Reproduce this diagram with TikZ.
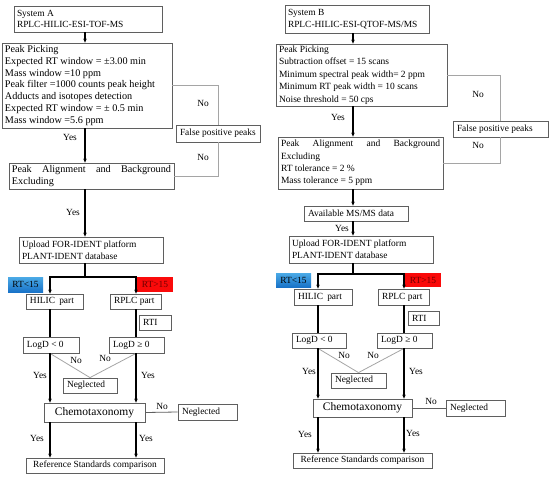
\documentclass[tikz,border=0pt]{standalone}
\usepackage{fontspec}
\setmainfont{Liberation Serif}
\usetikzlibrary{arrows.meta}
\definecolor{boxline}{RGB}{95,95,95}
\definecolor{noline}{RGB}{165,165,165}
\definecolor{bluetop}{RGB}{75,170,230}
\definecolor{bluebot}{RGB}{25,115,200}
\definecolor{redfill}{RGB}{250,10,10}
\definecolor{redtext}{RGB}{110,0,0}
\tikzset{
  box/.style={draw=boxline, line width=0.8pt, inner xsep=3pt, inner ysep=0pt, align=flush left, font=\fontsize{9.4}{11.8}\selectfont, fill=white},
  fa/.style={font=\fontsize{10.2}{11.7}\selectfont},
  fb/.style={font=\fontsize{9.5}{12.4}\selectfont},
  flow/.style={line width=1.2pt, -{Stealth[length=4pt,width=3.5pt]}},
  plain/.style={line width=1.2pt},
  nol/.style={draw=noline, line width=0.8pt},
  lab/.style={font=\fontsize{9.4}{11}\selectfont, inner sep=0pt},
  bluebox/.style={draw=none, top color=bluetop, bottom color=bluebot, inner sep=0pt, font=\fontsize{9.4}{11}\selectfont},
  redbox/.style={draw=none, fill=redfill, inner sep=0pt, text=redtext, font=\fontsize{9.4}{11}\selectfont}
}
% multi-line box, left aligned
\newcommand\bx[7][]{\node[box,minimum width={(#4-#2)*1pt},minimum height={(#5-#3)*1pt},text width={(#4-#2-6)*1pt},#1] (#6) at ({(#2+#4)/2},{(#3+#5)/2}) {#7};}
% single-line box, left aligned, never wraps
\newcommand\sx[7][]{\node[box,minimum width={(#4-#2)*1pt},minimum height={(#5-#3)*1pt},text width={(#4-#2-8)*1pt},#1] (#6) at ({(#2+#4)/2},{(#3+#5)/2}) {\makebox[\linewidth][l]{#7}};}
% single-line box, centred
\newcommand\cx[7][]{\node[box,align=center,inner xsep=0pt,minimum width={(#4-#2)*1pt},minimum height={(#5-#3)*1pt},#1] (#6) at ({(#2+#4)/2},{(#3+#5)/2}) {#7};}
\newcommand\tg[7][]{\node[#1,minimum width={(#4-#2)*1pt},minimum height={(#5-#3)*1pt}] (#6) at ({(#2+#4)/2},{(#3+#5)/2}) {#7};}
\newcommand\jl[4]{\makebox[\linewidth]{#1\hfill#2\hfill#3\hfill#4}}
\begin{document}
\begin{tikzpicture}[x=1pt,y=-1pt]
\useasboundingbox[fill=white] (0,0) rectangle (550,480);
% ---------------- System A ----------------
\coordinate (tA) at (85,0);
\coordinate (hA) at (50,0);
\coordinate (rA) at (136,0);
\coordinate (brA) at (0,277);
\bx{14}{6}{162}{32}{sysA}{System A\\RPLC-HILIC-ESI-TOF-MS}
\bx[fa]{2}{43}{172}{128}{ppA}{Peak Picking\\Expected RT window = ±3.00 min\\Mass window =10 ppm\\Peak filter =1000 counts peak height\\Adducts and isotopes detection\\Expected RT window = ± 0.5 min\\Mass window =5.6 ppm}
\sx{176}{125}{260}{142}{fpA}{False positive peaks}
\bx[fa]{9}{163}{174}{189}{paA}{\jl{Peak}{Alignment}{and}{Background}\\Excluding}
\bx{19}{237}{163}{263}{upA}{Upload FOR-IDENT platform\\PLANT-IDENT database}
\tg[bluebox]{8}{277}{43}{292}{rtlA}{RT<15}
\tg[redbox]{137}{277}{173}{292}{rtgA}{RT>15}
\sx{26}{294}{83}{309}{hilA}{HILIC\hspace{0.45em}part}
\sx{110}{294}{161}{309}{rplA}{RPLC part}
\sx{139}{315}{171}{330}{rtiA}{RTI}
\sx{23}{337}{79}{353}{ldlA}{LogD < 0}
\sx{109}{337}{164}{353}{ldgA}{LogD ≥ 0}
\sx{63}{378}{117}{393}{negA}{Neglected}
\cx[font=\fontsize{11.5}{13}\selectfont]{44}{403}{145}{422}{chA}{Chemotaxonomy}
\sx{178}{404}{237}{420}{neg2A}{Neglected}
\cx[font=\fontsize{9.4}{11}\selectfont]{26}{458}{164}{473}{refA}{Reference Standards comparison}
\draw[flow] (tA |- sysA.south) -- (tA |- ppA.north);
\draw[flow] (tA |- ppA.south) -- (tA |- paA.north);
\node[lab] (yA1) at (70,137) {Yes};
\draw[flow] (tA |- paA.south) -- (tA |- upA.north);
\node[lab] (yA2) at (73,212) {Yes};
\draw[plain] (tA |- upA.south) -- (tA |- brA);
\draw[flow] (tA |- brA) -| (hA |- hilA.north);
\draw[flow] (tA |- brA) -| (rA |- rplA.north);
\draw[nol] (ppA.east) -| (fpA.north);
\draw[nol] (fpA.south) |- (paA.east);
\node[lab] (nA1) at (203,103) {No};
\node[lab] (nA2) at (203,157) {No};
\draw[plain] (hA |- hilA.south) -- (hA |- ldlA.north);
\draw[plain] (rA |- rplA.south) -- (rA |- ldgA.north);
\draw[nol] (hA |- ldlA.south) -- (negA.north);
\draw[nol] (rA |- ldgA.south) -- (negA.north);
\node[lab] (nA3) at (76,360) {No};
\node[lab] (nA4) at (105,358) {No};
\draw[flow] (hA |- ldlA.south) -- (hA |- chA.north);
\draw[flow] (rA |- ldgA.south) -- (rA |- chA.north);
\node[lab] (yA3) at (40,375) {Yes};
\node[lab] (yA4) at (148,375) {Yes};
\draw[draw=boxline,line width=0.8pt] (chA.east) -- (neg2A.west);
\node[lab] (nA5) at (162,406) {No};
\draw[flow] (hA |- chA.south) -- (hA |- refA.north);
\draw[flow] (rA |- chA.south) -- (rA |- refA.north);
\node[lab] (yA5) at (37,438) {Yes};
\node[lab] (yA6) at (146,438) {Yes};
% ---------------- System B ----------------
\coordinate (tB) at (353,0);
\coordinate (hB) at (318,0);
\coordinate (rB) at (404,0);
\coordinate (brB) at (0,274);
\bx{285}{5}{429}{33}{sysB}{System B\\RPLC-HILIC-ESI-QTOF-MS/MS}
\bx[fb]{276}{44}{447}{106}{ppB}{Peak Picking\\Subtraction offset = 15 scans\\Minimum spectral peak width= 2 ppm\\Minimum RT peak width = 10 scans\\Noise threshold = 50 cps}
\sx{453}{121}{548}{137}{fpB}{False positive peaks}
\bx[fb]{278}{137}{443}{189}{paB}{\jl{Peak}{Alignment}{and}{Background}\\Excluding\\RT tolerance = 2 \%\\Mass tolerance = 5 ppm}
\sx{304}{206}{408}{221}{avB}{Available MS/MS data}
\bx{289}{236}{433}{263}{upB}{Upload FOR-IDENT platform\\PLANT-IDENT database}
\tg[bluebox]{276}{273}{311}{287}{rtlB}{RT<15}
\tg[redbox]{405}{273}{441}{287}{rtgB}{RT>15}
\sx{294}{289}{352}{305}{hilB}{HILIC\hspace{0.45em}part}
\sx{378}{289}{429}{305}{rplB}{RPLC part}
\sx{408}{311}{439}{325}{rtiB}{RTI}
\sx{292}{333}{346}{348}{ldlB}{LogD < 0}
\sx{377}{333}{432}{348}{ldgB}{LogD ≥ 0}
\sx{331}{373}{386}{388}{negB}{Neglected}
\cx[font=\fontsize{11.5}{13}\selectfont]{313}{399}{412}{417}{chB}{Chemotaxonomy}
\sx{446}{400}{505}{416}{neg2B}{Neglected}
\cx[font=\fontsize{9.4}{11}\selectfont]{293}{453}{432}{468}{refB}{Reference Standards comparison}
\draw[flow] (tB |- sysB.south) -- (tB |- ppB.north);
\draw[flow] (tB |- ppB.south) -- (tB |- paB.north);
\node[lab] (yB1) at (338,117) {Yes};
\draw[flow] (tB |- paB.south) -- (tB |- avB.north);
\draw[flow] (tB |- avB.south) -- (tB |- upB.north);
\node[lab] (yB2) at (342,228) {Yes};
\draw[plain] (tB |- upB.south) -- (tB |- brB);
\draw[flow] (tB |- brB) -| (hB |- hilB.north);
\draw[flow] (tB |- brB) -| (rB |- rplB.north);
\draw[nol] (ppB.east) -| (fpB.north);
\draw[nol] (fpB.south) |- (paB.east);
\node[lab] (nB1) at (478,94) {No};
\node[lab] (nB2) at (478,145) {No};
\draw[plain] (hB |- hilB.south) -- (hB |- ldlB.north);
\draw[plain] (rB |- rplB.south) -- (rB |- ldgB.north);
\draw[nol] (hB |- ldlB.south) -- (negB.north);
\draw[nol] (rB |- ldgB.south) -- (negB.north);
\node[lab] (nB3) at (344,355) {No};
\node[lab] (nB4) at (373,355) {No};
\draw[flow] (hB |- ldlB.south) -- (hB |- chB.north);
\draw[flow] (rB |- ldgB.south) -- (rB |- chB.north);
\node[lab] (yB3) at (309,371) {Yes};
\node[lab] (yB4) at (416,371) {Yes};
\draw[draw=boxline,line width=0.8pt] (chB.east) -- (neg2B.west);
\node[lab] (nB5) at (431,401) {No};
\draw[flow] (hB |- chB.south) -- (hB |- refB.north);
\draw[flow] (rB |- chB.south) -- (rB |- refB.north);
\node[lab] (yB5) at (305,434) {Yes};
\node[lab] (yB6) at (413,433) {Yes};
\end{tikzpicture}
\end{document}
